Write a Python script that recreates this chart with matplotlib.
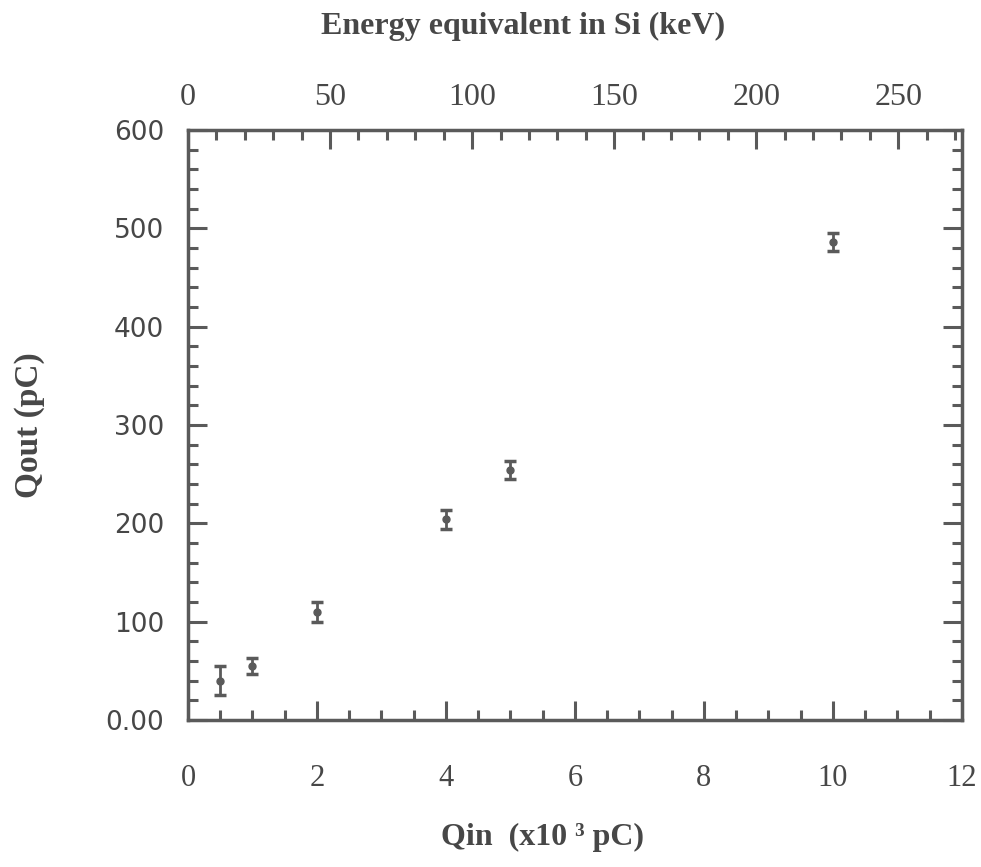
import numpy as np
import matplotlib.pyplot as plt
from matplotlib.ticker import MultipleLocator, FixedFormatter, FixedLocator

# data
qin = [0.5, 1.0, 2.0, 4.0, 5.0, 10.0]          # x10^3 pC
qout = [40, 55, 110, 204, 254, 486]            # pC
qout_err = [15, 8, 10, 10, 9, 9]

y_ticks = [0, 100, 200, 300, 400, 500, 600]
y_labels = ['0.00', '100', '200', '300', '400', '500', '600']
kev_ticks = [0, 50, 100, 150, 200, 250]
kev_per_unit = 22.7   # Qin -> energy equivalent in Si

grey = '#5a5a5a'
txt = '#474747'
serif = ['Liberation Serif', 'DejaVu Serif']
sans = ['DejaVu Sans']

fig = plt.figure(figsize=(9.81, 8.67), dpi=100)
ax = fig.add_axes([0.1916, 0.1696, 0.789, 0.6805])

ax.errorbar(qin, qout, yerr=qout_err, fmt='o', color=grey, ms=5,
            elinewidth=2, capsize=4.5, capthick=2.5)

ax.set_xlim(0, 12)
ax.set_ylim(0, 600)

ax.xaxis.set_major_locator(MultipleLocator(2))
ax.xaxis.set_minor_locator(MultipleLocator(0.5))
ax.yaxis.set_major_locator(FixedLocator(y_ticks))
ax.yaxis.set_major_formatter(FixedFormatter(y_labels))
ax.yaxis.set_minor_locator(MultipleLocator(20))

ax.tick_params(which='both', direction='in', color=grey, width=2.2, right=True)
ax.tick_params(which='major', length=14)
ax.tick_params(which='minor', length=7)
ax.tick_params(axis='x', which='major', pad=32, labelsize=22, labelcolor=txt)
ax.tick_params(axis='y', which='major', pad=17, labelsize=19, labelcolor=txt)
for lab in ax.get_xticklabels():
    lab.set_family(serif)
for lab in ax.get_yticklabels():
    lab.set_family(sans)

for sp in ax.spines.values():
    sp.set_color(grey)
    sp.set_linewidth(2.5)

ax.set_xlabel('Qin  (x10 \u00b3 pC)', fontsize=23, fontweight='bold',
              family=serif, color=txt)
ax.xaxis.set_label_coords(0.553, 0.0346, transform=fig.transFigure)
ax.xaxis.label.set_va('center')
ax.set_ylabel('Qout (pC)', fontsize=24, fontweight='bold',
              family=serif, color=txt)
ax.yaxis.set_label_coords(0.0296, 0.51, transform=fig.transFigure)
ax.yaxis.label.set_va('center')

top = ax.secondary_xaxis('top', functions=(lambda x: x * kev_per_unit,
                                           lambda e: e / kev_per_unit))
top.xaxis.set_major_locator(FixedLocator(kev_ticks))
top.xaxis.set_minor_locator(FixedLocator(np.arange(0, 271, 10)))
top.tick_params(which='both', direction='in', color=grey, width=2.2)
top.tick_params(which='major', length=14, pad=13, labelsize=23, labelcolor=txt)
top.tick_params(which='minor', length=7)
for lab in top.get_xticklabels():
    lab.set_family(serif)
top.spines['top'].set_visible(False)
top.set_xlabel('Energy equivalent in Si (keV)', fontsize=23, fontweight='bold',
               family=serif, color=txt)
top.xaxis.set_label_coords(0.533, 1 - 26 / 867, transform=fig.transFigure)
top.xaxis.label.set_va('center')

fig.savefig('out.png', dpi=100)
